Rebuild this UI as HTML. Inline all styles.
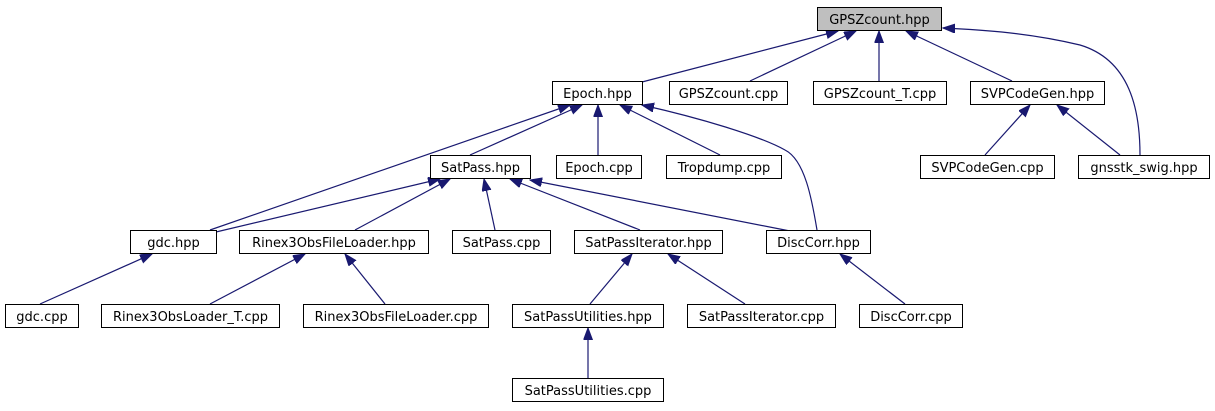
<!DOCTYPE html>
<html><head><meta charset="utf-8"><style>
html,body{margin:0;padding:0;background:#fff;}
svg{display:block;}
text{font-family:"DejaVu Sans","Liberation Sans",sans-serif;font-size:13px;fill:#000;}
</style></head><body>
<svg width="1215" height="411" viewBox="0 0 1215 411" xmlns="http://www.w3.org/2000/svg">
<defs>
<marker id="a" markerUnits="userSpaceOnUse" markerWidth="13" markerHeight="10" refX="12" refY="4.5" orient="auto">
<path d="M0,0 L12,4.5 L0,9 z" fill="#191970" stroke="#191970"/>
</marker>
</defs>
<g stroke="#191970" stroke-width="1.2" fill="none" marker-end="url(#a)">
<line x1="642" y1="82" x2="838" y2="31"/>
<line x1="750" y1="81" x2="856" y2="31"/>
<line x1="879" y1="81" x2="879" y2="31"/>
<line x1="1012" y1="81" x2="906" y2="31"/>
<path d="M1140,155 C1140,110 1130,60 1080,45 C1030,33 985,30 943,28"/>
<line x1="470" y1="155" x2="582" y2="105"/>
<line x1="598" y1="155" x2="598" y2="105"/>
<line x1="720" y1="155" x2="620" y2="105"/>
<line x1="210" y1="230" x2="570" y2="105"/>
<path d="M817,230 C812,200 805,160 785,150 C760,136 700,118 642,105"/>
<line x1="216" y1="232" x2="440" y2="179"/>
<line x1="355" y1="230" x2="450" y2="179"/>
<line x1="495" y1="230" x2="484" y2="179"/>
<line x1="640" y1="230" x2="510" y2="179"/>
<line x1="790" y1="231" x2="530" y2="180"/>
<line x1="985" y1="155" x2="1030" y2="105"/>
<line x1="1120" y1="155" x2="1057" y2="105"/>
<line x1="40" y1="304" x2="152" y2="254"/>
<line x1="210" y1="304" x2="305" y2="254"/>
<line x1="385" y1="304" x2="345" y2="254"/>
<line x1="590" y1="304" x2="632" y2="254"/>
<line x1="745" y1="304" x2="668" y2="254"/>
<line x1="905" y1="304" x2="840" y2="254"/>
<line x1="588" y1="378" x2="588" y2="328"/>
</g>
<g stroke="#000" stroke-width="1" fill="#fff">
<rect x="817.5" y="7.5" width="124" height="23" fill="#bfbfbf"/>
<rect x="552.5" y="81.5" width="90" height="23"/>
<rect x="669.5" y="81.5" width="118" height="23"/>
<rect x="813.5" y="81.5" width="133" height="23"/>
<rect x="970.5" y="81.5" width="134" height="23"/>
<rect x="430.5" y="155.5" width="100" height="23"/>
<rect x="556.5" y="155.5" width="85" height="23"/>
<rect x="666.5" y="155.5" width="115" height="23"/>
<rect x="920.5" y="155.5" width="134" height="23"/>
<rect x="1078.5" y="155.5" width="131" height="23"/>
<rect x="130.5" y="230.5" width="86" height="23"/>
<rect x="239.5" y="230.5" width="189" height="23"/>
<rect x="452.5" y="230.5" width="98" height="23"/>
<rect x="574.5" y="230.5" width="148" height="23"/>
<rect x="766.5" y="230.5" width="104" height="23"/>
<rect x="5.5" y="304.5" width="73" height="23"/>
<rect x="101.5" y="304.5" width="178" height="23"/>
<rect x="303.5" y="304.5" width="185" height="23"/>
<rect x="512.5" y="304.5" width="151" height="23"/>
<rect x="687.5" y="304.5" width="148" height="23"/>
<rect x="859.5" y="304.5" width="103" height="23"/>
<rect x="512.5" y="378.5" width="151" height="23"/>
</g>
<g text-anchor="middle">
<text x="879.5" y="24">GPSZcount.hpp</text>
<text x="597.5" y="98">Epoch.hpp</text>
<text x="728.5" y="98">GPSZcount.cpp</text>
<text x="880" y="98">GPSZcount_T.cpp</text>
<text x="1037.5" y="98">SVPCodeGen.hpp</text>
<text x="480.5" y="172">SatPass.hpp</text>
<text x="599" y="172">Epoch.cpp</text>
<text x="724" y="172">Tropdump.cpp</text>
<text x="987.5" y="172">SVPCodeGen.cpp</text>
<text x="1144" y="172">gnsstk_swig.hpp</text>
<text x="173.5" y="247">gdc.hpp</text>
<text x="334" y="247">Rinex3ObsFileLoader.hpp</text>
<text x="501.5" y="247">SatPass.cpp</text>
<text x="648.5" y="247">SatPassIterator.hpp</text>
<text x="818.5" y="247">DiscCorr.hpp</text>
<text x="42" y="321">gdc.cpp</text>
<text x="190.5" y="321">Rinex3ObsLoader_T.cpp</text>
<text x="396" y="321">Rinex3ObsFileLoader.cpp</text>
<text x="588" y="321">SatPassUtilities.hpp</text>
<text x="761.5" y="321">SatPassIterator.cpp</text>
<text x="911" y="321">DiscCorr.cpp</text>
<text x="588" y="395">SatPassUtilities.cpp</text>
</g>
</svg>
</body></html>
